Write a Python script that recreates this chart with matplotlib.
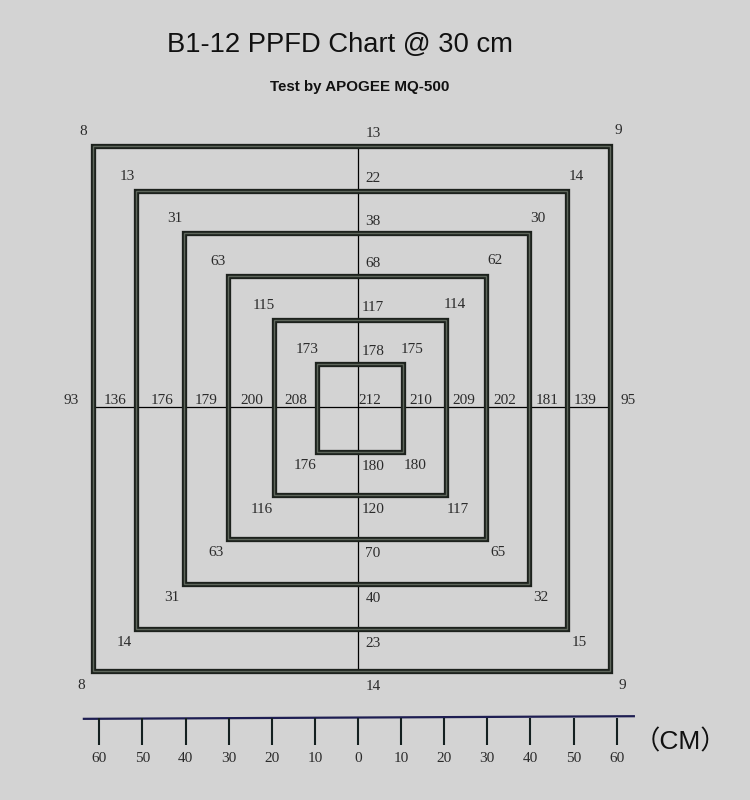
import matplotlib.pyplot as plt
from matplotlib.patches import Rectangle

# half width of each measuring square, cm (outer -> inner)
ring_half = [60, 50, 40, 30, 20, 10]

# PPFD readings per square
top_left = [8, 13, 31, 63, 115, 173]
top_mid = [13, 22, 38, 68, 117, 178]
top_right = [9, 14, 30, 62, 114, 175]
left_mid = [93, 136, 176, 179, 200, 208]
right_mid = [95, 139, 181, 202, 209, 210]
bottom_left = [8, 14, 31, 63, 116, 176]
bottom_mid = [14, 23, 40, 70, 120, 180]
bottom_right = [9, 15, 32, 65, 117, 180]
center_value = 212

# ruler
ruler_pos = [-60, -50, -40, -30, -20, -10, 0, 10, 20, 30, 40, 50, 60]
ruler_labels = ["60", "50", "40", "30", "20", "10", "0", "10", "20", "30", "40", "50", "60"]

# the hand-drawn squares are not all centred exactly on the crosshair
ring_cx = [-1.5, -1.4, -0.35, -0.23, 0.46, 0.46]
ring_cy = [-0.34, -0.68, -0.34, -0.06, -0.11, -0.17]

bg = "#d3d3d3"
num_font = "Liberation Serif"
num_color = "#2b2b2b"

fig = plt.figure(figsize=(7.5, 8), dpi=100, facecolor=bg)
ax = fig.add_axes([0, 0, 1, 1])
ax.set_facecolor(bg)
ax.set_xlim(-83.06, 90.95)
ax.set_ylim(-89.73, 92.92)
ax.axis("off")

for r, cx, cy in zip(ring_half, ring_cx, ring_cy):
    ax.add_patch(Rectangle((cx - r, cy - r), 2 * r, 2 * r, fill=False,
                           ec="#1c211c", lw=3.8, joinstyle="miter", zorder=2))
    ax.add_patch(Rectangle((cx - r, cy - r), 2 * r, 2 * r, fill=False,
                           ec="#5e665b", lw=1.0, joinstyle="miter", zorder=3))

# crosshair, spanning the outer square
r0, cx0, cy0 = ring_half[0], ring_cx[0], ring_cy[0]
ax.plot([0, 0], [cy0 - r0, cy0 + r0], color="black", lw=0.9, zorder=1)
ax.plot([cx0 - r0, cx0 + r0], [0, 0], color="black", lw=0.9, zorder=1)


def label(x, y, v):
    ax.text(x, y, str(v), ha="center", va="center", fontsize=11,
            family=num_font, color=num_color, zorder=5)


for i, r in enumerate(ring_half):
    cx, cy = ring_cx[i], ring_cy[i]
    label(cx - r - 2.2, cy + r + 3.3, top_left[i])
    label(cx + r + 2.0, cy + r + 3.4, top_right[i])
    label(cx - r - 2.8, cy - r - 3.2, bottom_left[i])
    label(cx + r + 2.8, cy - r - 3.2, bottom_right[i])
    label(3.5, cy + r + 2.8, top_mid[i])
    label(3.5, cy - r - 3.4, bottom_mid[i])
    label(cx - r - 5.0, 1.4, left_mid[i])
    label(cx + r + 4.2, 1.4, right_mid[i])
label(2.8, 1.4, center_value)

# ruler along the bottom
ruler_y = -71.2
ax.plot([-63.6, 64.0], [ruler_y, ruler_y + 0.6], color="#1e1e52", lw=1.6)
ax.vlines(ruler_pos, ruler_y - 6.0, ruler_y + 0.3, color="#142020", lw=1.5)
for p, t in zip(ruler_pos, ruler_labels):
    ax.text(p, -80.2, t, ha="center", va="center", fontsize=11,
            family=num_font, color=num_color)
ax.text(74.8, -78.3, "（CM）", ha="center", va="baseline", fontsize=19,
        family=["Liberation Sans", "Noto Sans CJK SC"], color="#111111")

fig.text(0.453, 0.944, "B1-12 PPFD Chart @ 30 cm", ha="center", va="center",
         fontsize=19.7, family="Liberation Sans", color="#111111")
fig.text(0.479, 0.891, "Test by APOGEE MQ-500", ha="center", va="center",
         fontsize=10.9, fontweight="bold", family="Liberation Sans", color="#111111")

fig.savefig("out.png", dpi=100, facecolor=bg)
